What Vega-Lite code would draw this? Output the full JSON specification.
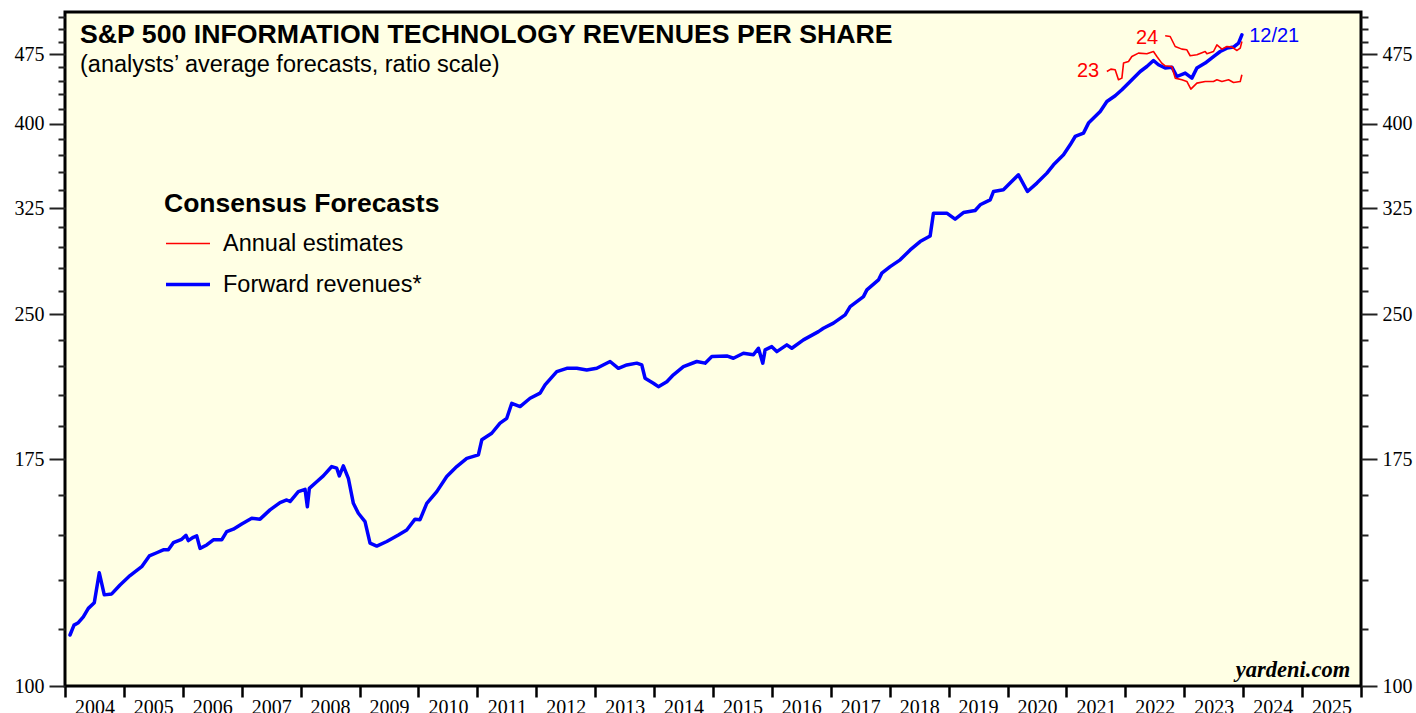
{
  "$schema": "https://vega.github.io/schema/vega-lite/v6.json",
  "width": 1296,
  "height": 674,
  "autosize": {"type": "none"},
  "padding": {"left": 65, "top": 12, "right": 55, "bottom": 27},
  "background": "white",
  "title": {
    "text": "S&P 500 INFORMATION TECHNOLOGY REVENUES PER SHARE",
    "subtitle": "(analysts’ average forecasts, ratio scale)",
    "anchor": "start",
    "frame": "group",
    "orient": "top",
    "offset": 0,
    "dx": 15,
    "dy": 69,
    "font": "Liberation Sans",
    "fontSize": 26.7,
    "fontWeight": "bold",
    "color": "black",
    "subtitleFont": "Liberation Sans",
    "subtitleFontSize": 23.5,
    "subtitleColor": "black",
    "subtitlePadding": 4,
    "limit": 1200
  },
  "config": {
    "view": {"fill": "#FFFFE4", "stroke": "black", "strokeWidth": 3},
    "legend": {
      "orient": "none",
      "legendX": 99,
      "legendY": 179,
      "titleFont": "Liberation Sans",
      "titleFontSize": 26.5,
      "titleFontWeight": "bold",
      "titleColor": "black",
      "titlePadding": 3,
      "titleLimit": 600,
      "labelFont": "Liberation Sans",
      "labelFontSize": 23.5,
      "labelColor": "black",
      "labelLimit": 600,
      "symbolType": "stroke",
      "symbolSize": 1936,
      "labelOffset": 11,
      "rowPadding": 5
    }
  },
  "datasets": {
    "fwd": [
      {"t":2004.085,"v":113.4},{"t":2004.153,"v":116.2},{"t":2004.226,"v":116.9},{"t":2004.311,"v":118.6},
      {"t":2004.396,"v":121.1},{"t":2004.497,"v":122.8},{"t":2004.582,"v":132.2},{"t":2004.667,"v":125.2},
      {"t":2004.793,"v":125.5},{"t":2004.934,"v":128.3},{"t":2005.104,"v":131.3},{"t":2005.302,"v":134.2},
      {"t":2005.431,"v":137.8},{"t":2005.557,"v":138.9},{"t":2005.669,"v":139.9},{"t":2005.754,"v":139.9},
      {"t":2005.839,"v":142.4},{"t":2005.981,"v":143.6},{"t":2006.054,"v":145.0},{"t":2006.093,"v":143.1},
      {"t":2006.178,"v":144.3},{"t":2006.236,"v":144.8},{"t":2006.292,"v":140.4},{"t":2006.406,"v":141.6},
      {"t":2006.518,"v":143.4},{"t":2006.660,"v":143.4},{"t":2006.745,"v":146.3},{"t":2006.857,"v":147.2},
      {"t":2007.000,"v":149.1},{"t":2007.170,"v":151.2},{"t":2007.311,"v":150.9},{"t":2007.480,"v":154.4},
      {"t":2007.650,"v":157.2},{"t":2007.764,"v":158.2},{"t":2007.820,"v":157.6},{"t":2007.961,"v":161.5},
      {"t":2008.075,"v":162.4},{"t":2008.114,"v":155.6},{"t":2008.148,"v":162.8},{"t":2008.273,"v":165.5},
      {"t":2008.385,"v":167.9},{"t":2008.528,"v":171.8},{"t":2008.613,"v":171.1},{"t":2008.657,"v":167.9},
      {"t":2008.725,"v":172.1},{"t":2008.810,"v":166.9},{"t":2008.895,"v":156.9},{"t":2008.980,"v":153.1},
      {"t":2009.093,"v":150.0},{"t":2009.178,"v":142.2},{"t":2009.292,"v":141.2},{"t":2009.462,"v":142.8},
      {"t":2009.659,"v":145.1},{"t":2009.801,"v":146.9},{"t":2009.942,"v":150.9},{"t":2010.027,"v":150.7},
      {"t":2010.141,"v":156.9},{"t":2010.311,"v":161.5},{"t":2010.480,"v":167.6},{"t":2010.650,"v":171.8},
      {"t":2010.820,"v":175.3},{"t":2011.017,"v":176.8},{"t":2011.075,"v":183.5},{"t":2011.244,"v":186.5},
      {"t":2011.385,"v":191.2},{"t":2011.499,"v":193.5},{"t":2011.584,"v":200.8},{"t":2011.725,"v":199.2},
      {"t":2011.895,"v":203.3},{"t":2012.065,"v":205.9},{"t":2012.149,"v":210.1},{"t":2012.348,"v":217.1},
      {"t":2012.518,"v":218.9},{"t":2012.688,"v":218.9},{"t":2012.857,"v":218.0},{"t":2013.027,"v":218.9},
      {"t":2013.253,"v":222.6},{"t":2013.394,"v":218.9},{"t":2013.537,"v":220.7},{"t":2013.706,"v":221.7},
      {"t":2013.791,"v":220.7},{"t":2013.847,"v":213.6},{"t":2013.988,"v":211.0},{"t":2014.073,"v":209.2},
      {"t":2014.216,"v":211.8},{"t":2014.328,"v":215.4},{"t":2014.498,"v":219.8},{"t":2014.725,"v":222.6},
      {"t":2014.866,"v":221.7},{"t":2014.980,"v":225.3},{"t":2015.234,"v":225.7},{"t":2015.346,"v":224.4},
      {"t":2015.516,"v":227.2},{"t":2015.686,"v":226.3},{"t":2015.771,"v":230.0},{"t":2015.845,"v":221.7},
      {"t":2015.885,"v":229.1},{"t":2015.998,"v":230.9},{"t":2016.083,"v":228.1},{"t":2016.253,"v":231.9},
      {"t":2016.338,"v":230.0},{"t":2016.535,"v":234.8},{"t":2016.790,"v":239.6},{"t":2016.874,"v":241.6},
      {"t":2017.044,"v":244.7},{"t":2017.243,"v":249.7},{"t":2017.328,"v":254.9},{"t":2017.554,"v":261.2},
      {"t":2017.612,"v":265.6},{"t":2017.809,"v":272.2},{"t":2017.866,"v":276.8},{"t":2018.007,"v":281.3},
      {"t":2018.177,"v":286.0},{"t":2018.347,"v":293.1},{"t":2018.516,"v":299.2},{"t":2018.686,"v":303.4},
      {"t":2018.742,"v":320.9},{"t":2018.969,"v":320.9},{"t":2019.110,"v":316.2},{"t":2019.251,"v":321.4},
      {"t":2019.450,"v":323.0},{"t":2019.535,"v":327.6},{"t":2019.705,"v":331.6},{"t":2019.761,"v":338.5},
      {"t":2019.930,"v":339.9},{"t":2020.044,"v":345.6},{"t":2020.185,"v":352.7},{"t":2020.338,"v":338.5},
      {"t":2020.498,"v":345.6},{"t":2020.668,"v":354.2},{"t":2020.780,"v":361.5},{"t":2020.865,"v":366.0},
      {"t":2020.950,"v":370.6},{"t":2021.063,"v":379.8},{"t":2021.148,"v":387.7},{"t":2021.289,"v":390.9},
      {"t":2021.374,"v":400.7},{"t":2021.573,"v":412.3},{"t":2021.686,"v":422.6},{"t":2021.827,"v":428.6},
      {"t":2021.941,"v":435.0},{"t":2022.082,"v":444.0},{"t":2022.252,"v":455.1},{"t":2022.365,"v":460.7},
      {"t":2022.477,"v":467.6},{"t":2022.562,"v":462.7},{"t":2022.676,"v":459.0},{"t":2022.790,"v":460.0},
      {"t":2022.875,"v":449.5},{"t":2023.016,"v":453.3},{"t":2023.129,"v":447.7},{"t":2023.214,"v":459.0},
      {"t":2023.355,"v":464.6},{"t":2023.496,"v":472.2},{"t":2023.610,"v":478.1},{"t":2023.724,"v":482.1},
      {"t":2023.836,"v":483.3},{"t":2023.921,"v":488.1},{"t":2023.978,"v":498.2}
    ],
    "annual": [
      {"est":"2023","t":2021.686,"v":455.1},{"est":"2023","t":2021.754,"v":457.8},{"est":"2023","t":2021.827,"v":457.1},
      {"est":"2023","t":2021.883,"v":445.9},{"est":"2023","t":2021.941,"v":447.7},{"est":"2023","t":2021.969,"v":464.6},
      {"est":"2023","t":2022.053,"v":466.5},{"est":"2023","t":2022.110,"v":472.2},{"est":"2023","t":2022.222,"v":476.2},
      {"est":"2023","t":2022.365,"v":475.4},{"est":"2023","t":2022.477,"v":478.1},{"est":"2023","t":2022.535,"v":472.2},
      {"est":"2023","t":2022.618,"v":464.6},{"est":"2023","t":2022.676,"v":461.5},{"est":"2023","t":2022.790,"v":460.7},
      {"est":"2023","t":2022.846,"v":447.7},{"est":"2023","t":2022.959,"v":445.9},{"est":"2023","t":2023.044,"v":444.0},
      {"est":"2023","t":2023.112,"v":435.8},{"est":"2023","t":2023.214,"v":442.2},{"est":"2023","t":2023.355,"v":444.0},
      {"est":"2023","t":2023.496,"v":444.0},{"est":"2023","t":2023.554,"v":445.9},{"est":"2023","t":2023.639,"v":444.0},
      {"est":"2023","t":2023.752,"v":445.9},{"est":"2023","t":2023.836,"v":442.9},{"est":"2023","t":2023.950,"v":444.0},
      {"est":"2023","t":2023.978,"v":451.4},
      {"est":"2024","t":2022.676,"v":497.0},{"est":"2024","t":2022.761,"v":496.1},{"est":"2024","t":2022.846,"v":484.0},
      {"est":"2024","t":2022.959,"v":480.9},{"est":"2024","t":2023.044,"v":480.1},{"est":"2024","t":2023.100,"v":473.1},
      {"est":"2024","t":2023.214,"v":474.2},{"est":"2024","t":2023.355,"v":478.1},{"est":"2024","t":2023.384,"v":475.4},
      {"est":"2024","t":2023.496,"v":478.1},{"est":"2024","t":2023.554,"v":486.0},{"est":"2024","t":2023.639,"v":480.9},
      {"est":"2024","t":2023.724,"v":484.0},{"est":"2024","t":2023.810,"v":483.3},{"est":"2024","t":2023.895,"v":479.3},
      {"est":"2024","t":2023.950,"v":482.1},{"est":"2024","t":2023.978,"v":490.0}
    ],
    "notes": [
      {"kind":"red","label":"23","t":2021.555,"v":455.5},
      {"kind":"red","label":"24","t":2022.557,"v":494.5},
      {"kind":"blue","label":"12/21","t":2024.102,"v":497.3},
      {"kind":"credit","label":"yardeni.com","t":2025.817,"v":102.2}
    ]
  },
  "layer": [
    {
      "data": {"name": "fwd"},
      "transform": [{"calculate": "'Forward revenues*'", "as": "series"}],
      "mark": {"type": "line", "strokeJoin": "round", "strokeCap": "round"},
      "encoding": {
        "x": {
          "field": "t", "type": "quantitative",
          "scale": {"domain": [2004, 2026], "nice": false, "zero": false},
          "axis": {
            "title": null, "grid": false, "domain": false,
            "values": [2004,2005,2006,2007,2008,2009,2010,2011,2012,2013,2014,2015,2016,2017,2018,2019,2020,2021,2022,2023,2024,2025,2026],
            "labelExpr": "datum.value >= 2026 ? '' : format(datum.value, 'd')",
            "labelOffset": 29.45, "labelFlush": false, "labelOverlap": false, "labelBound": false,
            "labelFont": "Liberation Serif", "labelFontSize": 20, "labelColor": "black",
            "labelBaseline": "top", "labelPadding": 0,
            "tickSize": 11, "tickWidth": 2.5, "tickColor": "black"
          }
        },
        "y": {
          "field": "v", "type": "quantitative",
          "scale": {"type": "log", "domain": [100, 527], "nice": false, "zero": false},
          "axis": {
            "orient": "left", "title": null, "grid": false, "domain": false,
            "values": [100,115,130,145,160,175,190,205,220,235,250,265,280,295,310,325,340,355,370,385,400,415,430,445,460,475,490,505,520],
            "labelExpr": "(datum.value - 100) % 75 == 0 ? format(datum.value, 'd') : ''",
            "labelOverlap": false, "labelFlush": false, "labelBound": false,
            "labelFont": "Liberation Serif", "labelFontSize": 20, "labelColor": "black", "labelPadding": 5,
            "tickSize": {"condition": {"test": "(datum.value - 100) % 75 == 0", "value": 16}, "value": 7},
            "tickWidth": 2, "tickColor": "#222"
          }
        },
        "color": {
          "field": "series", "type": "nominal",
          "scale": {"domain": ["Annual estimates", "Forward revenues*"], "range": ["#ff0000", "#0000ff"]},
          "legend": {"title": "Consensus Forecasts"}
        },
        "strokeWidth": {
          "field": "series", "type": "nominal",
          "scale": {"domain": ["Annual estimates", "Forward revenues*"], "range": [1.6, 3.5]},
          "legend": {"title": "Consensus Forecasts"}
        }
      }
    },
    {
      "data": {"name": "annual"},
      "transform": [{"calculate": "'Annual estimates'", "as": "series"}],
      "mark": {"type": "line", "strokeJoin": "round"},
      "encoding": {
        "x": {"field": "t", "type": "quantitative"},
        "y": {"field": "v", "type": "quantitative", "scale": {"type": "log", "domain": [100, 527], "nice": false, "zero": false}, "axis": null},
        "detail": {"field": "est", "type": "nominal"},
        "color": {"field": "series", "type": "nominal"},
        "strokeWidth": {"field": "series", "type": "nominal"}
      }
    },
    {
      "data": {"name": "notes"},
      "transform": [{"filter": "datum.kind == 'red'"}],
      "mark": {"type": "text", "align": "right", "baseline": "middle", "font": "Liberation Sans", "fontSize": 20, "color": "#ff0000"},
      "encoding": {
        "x": {"field": "t", "type": "quantitative"},
        "y": {
          "field": "v", "type": "quantitative",
          "scale": {"type": "log", "domain": [100, 527], "nice": false, "zero": false},
          "axis": {
            "orient": "right", "title": null, "grid": false, "domain": false,
            "values": [100,115,130,145,160,175,190,205,220,235,250,265,280,295,310,325,340,355,370,385,400,415,430,445,460,475,490,505,520],
            "labelExpr": "(datum.value - 100) % 75 == 0 ? format(datum.value, 'd') : ''",
            "labelOverlap": false, "labelFlush": false, "labelBound": false,
            "labelFont": "Liberation Serif", "labelFontSize": 20, "labelColor": "black", "labelPadding": 5,
            "tickSize": {"condition": {"test": "(datum.value - 100) % 75 == 0", "value": 16}, "value": 7},
            "tickWidth": 2, "tickColor": "#222"
          }
        },
        "text": {"field": "label", "type": "nominal"}
      }
    },
    {
      "data": {"name": "notes"},
      "transform": [{"filter": "datum.kind == 'blue'"}],
      "mark": {"type": "text", "align": "left", "baseline": "middle", "font": "Liberation Sans", "fontSize": 20, "color": "#0000ff"},
      "encoding": {
        "x": {"field": "t", "type": "quantitative"},
        "y": {"field": "v", "type": "quantitative", "scale": {"type": "log", "domain": [100, 527], "nice": false, "zero": false}, "axis": null},
        "text": {"field": "label", "type": "nominal"}
      }
    },
    {
      "data": {"name": "notes"},
      "transform": [{"filter": "datum.kind == 'credit'"}],
      "mark": {"type": "text", "align": "right", "baseline": "alphabetic", "font": "Liberation Serif", "fontSize": 22.5, "fontStyle": "italic", "fontWeight": "bold", "color": "black"},
      "encoding": {
        "x": {"field": "t", "type": "quantitative"},
        "y": {"field": "v", "type": "quantitative", "scale": {"type": "log", "domain": [100, 527], "nice": false, "zero": false}, "axis": null},
        "text": {"field": "label", "type": "nominal"}
      }
    }
  ],
  "resolve": {"scale": {"y": "independent"}}
}
